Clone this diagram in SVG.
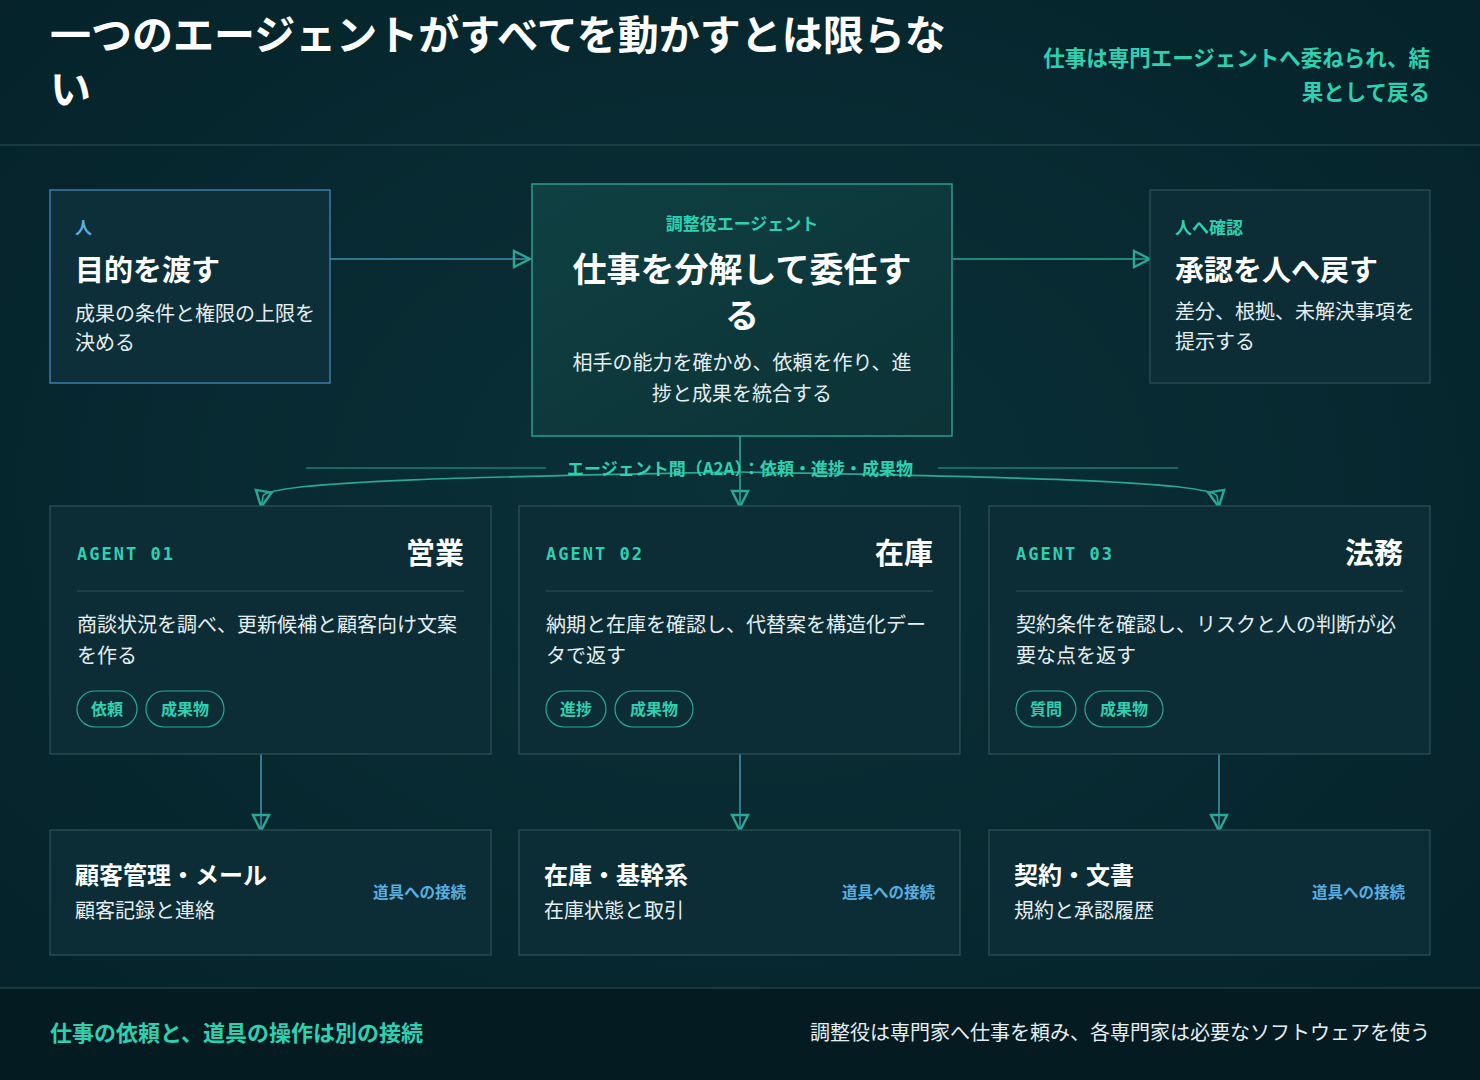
<svg xmlns="http://www.w3.org/2000/svg" width="1480" height="1080" viewBox="0 0 1480 1080">
<defs>
<radialGradient id="bg" cx="50%" cy="45%" r="70%"><stop offset="0" stop-color="#0a3138"/><stop offset="1" stop-color="#05222a"/></radialGradient>
<linearGradient id="cg" x1="0" y1="0" x2="1" y2="1"><stop offset="0" stop-color="#0f4042"/><stop offset="1" stop-color="#0c3236"/></linearGradient>
<marker id="ah" viewBox="0 0 20 20" refX="19" refY="10" markerWidth="20" markerHeight="20" markerUnits="userSpaceOnUse" orient="auto"><path d="M2,2 L18,10 L2,18 Z" fill="none" stroke="#2aa891" stroke-width="2.4"/></marker>
</defs>
<style>
text{font-family:"Noto Sans CJK JP","Noto Sans",sans-serif}
.box{fill:#0c2d36;stroke:#2f5359;stroke-width:1.2}
.t{fill:#fff;font-weight:700}
.d{fill:#e6eef0;font-size:20px}
.teal{fill:#2fd0b0;font-weight:700}
.blue{fill:#5aaee0;font-weight:700}
.mono{font-family:"DejaVu Sans Mono","Liberation Mono",monospace;font-size:17px;letter-spacing:2px}
.pill{fill:none;stroke:#2aa891;stroke-width:1.2}
.c{fill:none;stroke:#2aa891;stroke-width:1.6}
.cb{fill:none;stroke:#3f8fb0;stroke-width:1.6}
</style>
<rect width="1480" height="1080" fill="url(#bg)"/>
<g id="header">
<text x="50" y="50" class="t" font-size="41">一つのエージェントがすべてを動かすとは限らな</text>
<text x="50" y="104" class="t" font-size="41">い</text>
<text x="1430" y="66" class="teal" font-size="21.5" text-anchor="end">仕事は専門エージェントへ委ねられ、結</text>
<text x="1430" y="100" class="teal" font-size="21.5" text-anchor="end">果として戻る</text>
<line x1="0" y1="145" x2="1480" y2="145" stroke="#2f5359"/>
</g>
<g id="connectors">
<line class="cb" x1="330" y1="259" x2="531" y2="259" marker-end="url(#ah)"/>
<line class="c" x1="953" y1="259" x2="1151" y2="259" marker-end="url(#ah)"/>
<line x1="306" y1="468" x2="546" y2="468" stroke="#2aa891" stroke-width="1"/>
<line x1="938" y1="468" x2="1178" y2="468" stroke="#2aa891" stroke-width="1"/>
<line class="c" x1="740" y1="434" x2="740" y2="508" marker-end="url(#ah)"/>
<path class="c" d="M740,472 C520,476 270,480 263,496 L261,508" marker-end="url(#ah)"/>
<path class="c" d="M740,472 C960,476 1210,480 1217,496 L1219,508" marker-end="url(#ah)"/>
<line class="cb" x1="261" y1="752" x2="261" y2="832" marker-end="url(#ah)"/>
<line class="cb" x1="740" y1="752" x2="740" y2="832" marker-end="url(#ah)"/>
<line class="cb" x1="1219" y1="752" x2="1219" y2="832" marker-end="url(#ah)"/>
<text x="740" y="475" class="teal" font-size="17" text-anchor="middle">エージェント間（A2A）：依頼・進捗・成果物</text>
</g>
<g id="human">
<rect x="50" y="190" width="280" height="193" fill="#0d2f3a" stroke="#4a90c8" stroke-width="1.2"/>
<text x="75" y="234" class="blue" font-size="17">人</text>
<text x="75" y="281" class="t" font-size="29">目的を渡す</text>
<text x="75" y="321" class="d" font-size="18.5">成果の条件と権限の上限を</text>
<text x="75" y="350" class="d" font-size="18.5">決める</text>
</g>
<g id="coordinator">
<rect x="532" y="184" width="420" height="252" fill="url(#cg)" stroke="#2aa891" stroke-width="1.4"/>
<text x="742" y="230" class="teal" font-size="17" text-anchor="middle">調整役エージェント</text>
<text x="742" y="282" class="t" font-size="34" text-anchor="middle">仕事を分解して委任す</text>
<text x="742" y="328" class="t" font-size="34" text-anchor="middle">る</text>
<text x="742" y="370" class="d" text-anchor="middle">相手の能力を確かめ、依頼を作り、進</text>
<text x="742" y="401" class="d" text-anchor="middle">捗と成果を統合する</text>
</g>
<g id="approval">
<rect x="1150" y="190" width="280" height="193" class="box"/>
<text x="1175" y="234" class="teal" font-size="17">人へ確認</text>
<text x="1175" y="281" class="t" font-size="29">承認を人へ戻す</text>
<text x="1175" y="319" class="d" font-size="18.5">差分、根拠、未解決事項を</text>
<text x="1175" y="349" class="d" font-size="18.5">提示する</text>
</g>
<g id="agent1">
<rect x="50" y="506" width="441" height="248" class="box"/>
<text x="77" y="560" class="teal mono">AGENT 01</text>
<text x="464" y="564" class="t" font-size="29" text-anchor="end">営業</text>
<line x1="77" y1="591" x2="464" y2="591" stroke="#2f5359"/>
<text x="77" y="632" class="d">商談状況を調べ、更新候補と顧客向け文案</text>
<text x="77" y="663" class="d">を作る</text>
<rect x="77" y="691" width="60" height="36" rx="18" class="pill"/>
<text x="107" y="715" class="teal" font-size="16" text-anchor="middle">依頼</text>
<rect x="146" y="691" width="78" height="36" rx="18" class="pill"/>
<text x="185" y="715" class="teal" font-size="16" text-anchor="middle">成果物</text>
</g>
<g id="agent2">
<rect x="519" y="506" width="441" height="248" class="box"/>
<text x="546" y="560" class="teal mono">AGENT 02</text>
<text x="933" y="564" class="t" font-size="29" text-anchor="end">在庫</text>
<line x1="546" y1="591" x2="933" y2="591" stroke="#2f5359"/>
<text x="546" y="632" class="d">納期と在庫を確認し、代替案を構造化デー</text>
<text x="546" y="663" class="d">タで返す</text>
<rect x="546" y="691" width="60" height="36" rx="18" class="pill"/>
<text x="576" y="715" class="teal" font-size="16" text-anchor="middle">進捗</text>
<rect x="615" y="691" width="78" height="36" rx="18" class="pill"/>
<text x="654" y="715" class="teal" font-size="16" text-anchor="middle">成果物</text>
</g>
<g id="agent3">
<rect x="989" y="506" width="441" height="248" class="box"/>
<text x="1016" y="560" class="teal mono">AGENT 03</text>
<text x="1403" y="564" class="t" font-size="29" text-anchor="end">法務</text>
<line x1="1016" y1="591" x2="1403" y2="591" stroke="#2f5359"/>
<text x="1016" y="632" class="d">契約条件を確認し、リスクと人の判断が必</text>
<text x="1016" y="663" class="d">要な点を返す</text>
<rect x="1016" y="691" width="60" height="36" rx="18" class="pill"/>
<text x="1046" y="715" class="teal" font-size="16" text-anchor="middle">質問</text>
<rect x="1085" y="691" width="78" height="36" rx="18" class="pill"/>
<text x="1124" y="715" class="teal" font-size="16" text-anchor="middle">成果物</text>
</g>
<g id="tool1">
<rect x="50" y="830" width="441" height="125" class="box"/>
<text x="75" y="884" class="t" font-size="24">顧客管理・メール</text>
<text x="75" y="918" class="d" font-size="18">顧客記録と連絡</text>
<text x="466" y="898" class="blue" font-size="15.5" text-anchor="end">道具への接続</text>
</g>
<g id="tool2">
<rect x="519" y="830" width="441" height="125" class="box"/>
<text x="544" y="884" class="t" font-size="24">在庫・基幹系</text>
<text x="544" y="918" class="d" font-size="18">在庫状態と取引</text>
<text x="935" y="898" class="blue" font-size="15.5" text-anchor="end">道具への接続</text>
</g>
<g id="tool3">
<rect x="989" y="830" width="441" height="125" class="box"/>
<text x="1014" y="884" class="t" font-size="24">契約・文書</text>
<text x="1014" y="918" class="d" font-size="18">規約と承認履歴</text>
<text x="1405" y="898" class="blue" font-size="15.5" text-anchor="end">道具への接続</text>
</g>
<g id="footer">
<rect x="0" y="988" width="1480" height="92" fill="#041b22"/>
<line x1="0" y1="988" x2="1480" y2="988" stroke="#2f5359"/>
<text x="50" y="1041" class="teal" font-size="22">仕事の依頼と、道具の操作は別の接続</text>
<text x="1430" y="1040" fill="#e6eef0" font-size="20" text-anchor="end">調整役は専門家へ仕事を頼み、各専門家は必要なソフトウェアを使う</text>
</g>
</svg>
